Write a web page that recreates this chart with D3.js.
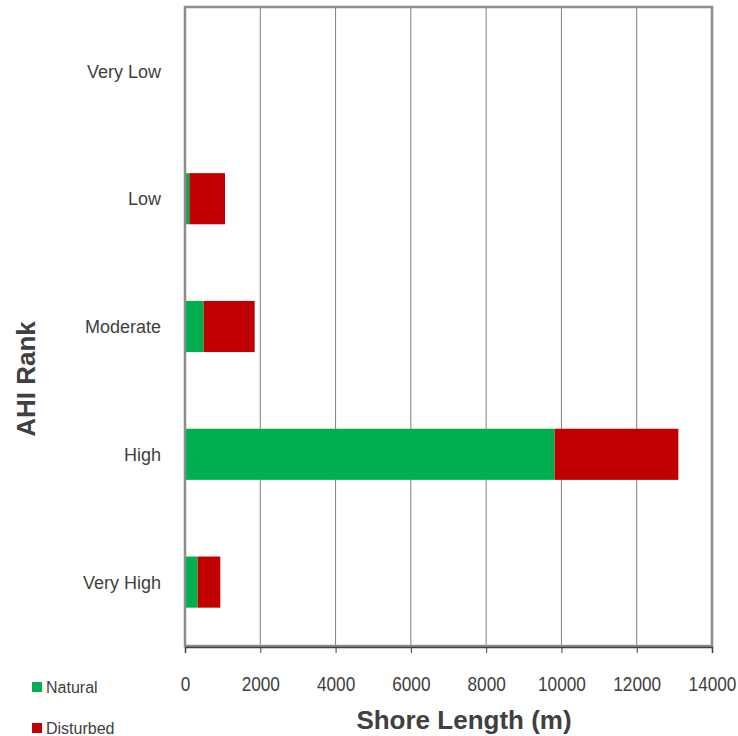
<!DOCTYPE html>
<html>
<head>
<meta charset="utf-8">
<script src="https://cdn.jsdelivr.net/npm/d3@7"></script>
<style>
  body { margin: 0; background: #fff; }
  text { font-family: "Liberation Sans", Arial, sans-serif; fill: #404040; }
</style>
</head>
<body>
<div id="chart"></div>
<script>
// data
var ranks = ["Very Low", "Low", "Moderate", "High", "Very High"];
var natural = [0, 115, 497, 9822, 337];
var disturbed = [0, 948, 1354, 3284, 601];
var xTicks = [0, 2000, 4000, 6000, 8000, 10000, 12000, 14000];
var seriesNames = ["Natural", "Disturbed"];
var colors = ["#00b050", "#c00000"];

var width = 738, height = 736;
var plot = { left: 185, right: 712, top: 7, bottom: 646 };

var svg = d3.select("#chart")
    .append("svg")
    .attr("width", width)
    .attr("height", height);

var xScale = d3.scaleLinear()
    .domain([0, 14000])
    .range([plot.left, plot.right]);

var yScale = d3.scaleBand()
    .domain(ranks)
    .range([plot.top, plot.bottom])
    .paddingInner(0.6)
    .paddingOuter(0.3);

// gridlines
svg.append("g")
    .selectAll("line")
    .data(xTicks.slice(1, -1))
    .enter()
    .append("line")
    .attr("x1", d => xScale(d))
    .attr("x2", d => xScale(d))
    .attr("y1", plot.top)
    .attr("y2", plot.bottom)
    .attr("stroke", "#808080")
    .attr("stroke-width", 1);

// stacked bars
var rows = ranks.map(function(r, i) {
    return { rank: r, Natural: natural[i], Disturbed: disturbed[i] };
});
var stacked = d3.stack().keys(seriesNames)(rows);

svg.selectAll("g.layer")
    .data(stacked)
    .enter()
    .append("g")
    .attr("class", "layer")
    .attr("fill", (d, i) => colors[i])
    .selectAll("rect")
    .data(d => d)
    .enter()
    .append("rect")
    .attr("x", d => xScale(d[0]))
    .attr("y", d => yScale(d.data.rank))
    .attr("width", d => xScale(d[1]) - xScale(d[0]))
    .attr("height", yScale.bandwidth());

// frame
svg.append("rect")
    .attr("x", plot.left)
    .attr("y", plot.top)
    .attr("width", plot.right - plot.left)
    .attr("height", plot.bottom - plot.top)
    .attr("fill", "none")
    .attr("stroke", "#8c8c8c")
    .attr("stroke-width", 2.5);

// x axis
var xAxis = svg.append("g")
    .attr("transform", "translate(0," + (plot.bottom + 1) + ")")
    .call(d3.axisBottom(xScale)
        .tickValues(xTicks)
        .tickFormat(d3.format("d"))
        .tickSizeOuter(0)
        .tickSize(6)
        .tickPadding(23));

xAxis.select("path.domain").attr("stroke", "#404040").attr("stroke-width", 1.5);
xAxis.selectAll(".tick line").attr("stroke", "#404040");
// labels in the reference are a condensed face, so squeeze them a bit
xAxis.selectAll(".tick text")
    .style("font-size", "21px")
    .attr("transform", "scale(0.82,1)")
    .attr("fill", "#404040");

// category labels
svg.selectAll(".cat-label")
    .data(ranks)
    .enter()
    .append("text")
    .attr("class", "cat-label")
    .attr("x", 161)
    .attr("y", d => yScale(d) + yScale.bandwidth() / 2 + 2)
    .attr("text-anchor", "end")
    .attr("dominant-baseline", "middle")
    .style("font-size", "18px")
    .text(d => d);

// axis titles
svg.append("text")
    .attr("x", 464)
    .attr("y", 729)
    .attr("text-anchor", "middle")
    .style("font-size", "26px")
    .style("font-weight", "bold")
    .text("Shore Length (m)");

svg.append("text")
    .attr("transform", "translate(35,379) rotate(-90)")
    .attr("text-anchor", "middle")
    .style("font-size", "26px")
    .style("font-weight", "bold")
    .text("AHI Rank");

// legend
var legend = svg.selectAll(".legend")
    .data(seriesNames)
    .enter()
    .append("g")
    .attr("class", "legend")
    .attr("transform", (d, i) => "translate(32," + (682 + i * 41) + ")");

legend.append("rect")
    .attr("width", 10)
    .attr("height", 10)
    .attr("fill", (d, i) => colors[i]);

legend.append("text")
    .attr("x", 14)
    .attr("y", 11)
    .style("font-size", "16px")
    .text(d => d);
</script>
</body>
</html>
